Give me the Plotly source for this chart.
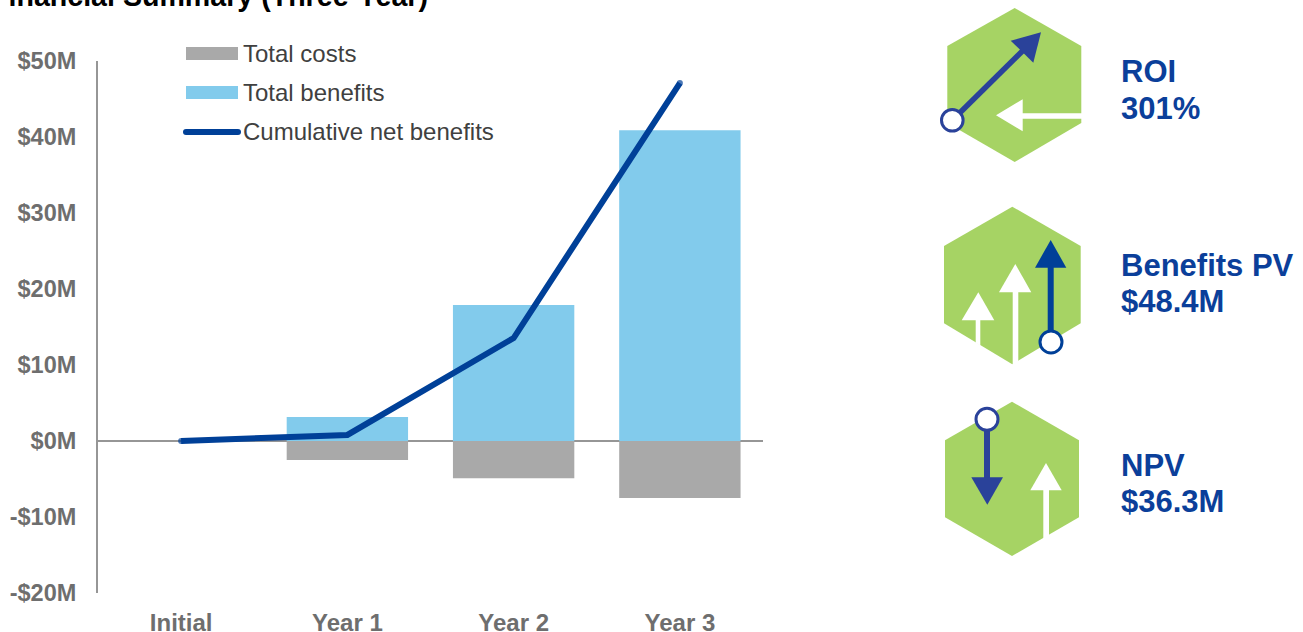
import plotly.graph_objects as go

W, H = 1303, 632

# Chart data, $ millions
periods = ["Initial", "Year 1", "Year 2", "Year 3"]
total_costs = [0, -2.5, -4.9, -7.5]
total_benefits = [0, 3.15, 17.9, 40.9]
cumulative_net = [0, 0.8, 13.55, 47.1]
y_ticks = [50, 40, 30, 20, 10, 0, -10, -20]
y_tick_labels = ["$50M", "$40M", "$30M", "$20M", "$10M", "$0M", "-$10M", "-$20M"]

GREY_BAR = "#a9a9a9"
BLUE_BAR = "#82cbec"
NAVY = "#004098"
ICON_NAVY = "#2a429a"
GREEN = "#a6d364"
LABEL_GREY = "#6e6e6e"
AXIS_GREY = "#969696"
FONT = "Liberation Sans"

fig = go.Figure()
fig.add_bar(x=periods, y=total_costs, marker_color=GREY_BAR, marker_line_width=0, width=0.73, name="Total costs")
fig.add_bar(x=periods, y=total_benefits, marker_color=BLUE_BAR, marker_line_width=0, width=0.73, name="Total benefits")
# Dots on the first and last points give the line rounded ends
fig.add_scatter(x=periods, y=cumulative_net, mode="lines+markers", line=dict(color=NAVY, width=6),
                marker=dict(color=NAVY, size=[6, 0, 0, 6], line_width=0),
                name="Cumulative net benefits")

shapes, notes = [], []


def fx(x):
    return x / W


def fy(y):
    return 1 - y / H


def poly(points, fill):
    """Closed filled polygon given in page pixels."""
    path = "M" + " L".join(f"{fx(x):.5f},{fy(y):.5f}" for x, y in points) + " Z"
    shapes.append(dict(type="path", path=path, xref="paper", yref="paper", fillcolor=fill, line_width=0, layer="above"))


def seg(x0, y0, x1, y1, color, width):
    shapes.append(dict(type="line", x0=fx(x0), y0=fy(y0), x1=fx(x1), y1=fy(y1), xref="paper", yref="paper",
                       line=dict(color=color, width=width), layer="above"))


def ring(cx, cy, r, color):
    shapes.append(dict(type="circle", x0=fx(cx - r), x1=fx(cx + r), y0=fy(cy + r), y1=fy(cy - r),
                       xref="paper", yref="paper", fillcolor="white", line=dict(color=color, width=3), layer="above"))


def dot(cx, cy, r, color):
    shapes.append(dict(type="circle", x0=fx(cx - r), x1=fx(cx + r), y0=fy(cy + r), y1=fy(cy - r),
                       xref="paper", yref="paper", fillcolor=color, line_width=0, layer="above"))


def label(x, y, text, size, color, bold=False):
    notes.append(dict(x=fx(x), y=fy(y), xref="paper", yref="paper", text=f"<b>{text}</b>" if bold else text,
                      showarrow=False, xanchor="left", yanchor="middle",
                      font=dict(family=FONT, size=size, color=color)))


# Legend entries
poly([(186, 47), (238, 47), (238, 60), (186, 60)], GREY_BAR)
poly([(186, 86), (238, 86), (238, 99), (186, 99)], BLUE_BAR)
seg(186, 132, 238, 132, NAVY, 6)
dot(186, 132, 3, NAVY)
dot(238, 132, 3, NAVY)
label(241, 53, "Total costs", 24, "#404040")
label(241, 92.5, "Total benefits", 24, "#404040")
label(241, 131.5, "Cumulative net benefits", 24, "#404040")

# ROI badge
poly([(1014.7, 8), (1081.3, 46), (1081.3, 123), (1014.7, 162), (947.3, 123), (947.3, 46)], GREEN)
poly([(996, 115.3), (1022.7, 99.3), (1022.7, 113.3), (1082, 113.3), (1082, 118.7), (1022.7, 118.7), (1022.7, 131.3)], "white")
seg(952.3, 120.3, 1025, 48.5, ICON_NAVY, 5.5)
poly([(1041, 32.3), (1010.7, 40.7), (1033.3, 62.7)], ICON_NAVY)
ring(952.3, 120.3, 10.8, ICON_NAVY)

# Benefits PV badge
poly([(1012.3, 206.7), (1080.7, 246), (1080.7, 323.3), (1012.3, 364.3), (944, 323.3), (944, 246)], GREEN)
poly([(978.3, 292.3), (994.3, 320.3), (961.7, 320.3)], "white")
poly([(975.7, 320), (980.3, 320), (980.3, 345.5), (975.7, 343)], "white")
poly([(1015.3, 264), (1031.3, 292.3), (999, 292.3)], "white")
poly([(1012.7, 292), (1018.3, 292), (1018.3, 366), (1012.7, 366)], "white")
seg(1050.7, 267, 1050.7, 342, NAVY, 6)
poly([(1050.7, 240), (1066.3, 267.7), (1035, 267.7)], NAVY)
ring(1051, 342, 11, NAVY)

# NPV badge
poly([(1012, 401.7), (1079, 440.3), (1079, 517.3), (1012, 556), (945, 517.3), (945, 440.3)], GREEN)
seg(987, 419, 987, 478, ICON_NAVY, 6)
poly([(971.3, 477.3), (1003, 477.3), (987.3, 504.7)], ICON_NAVY)
ring(987, 419.3, 11, ICON_NAVY)
poly([(1046, 463), (1061.7, 490.3), (1030.3, 490.3)], "white")
poly([(1043.3, 490), (1049, 490), (1049, 566), (1043.3, 566)], "white")

# Badge captions
for x, y, text in [(1119, 71, "ROI"), (1119, 108, "301%"),
                   (1119, 265, "Benefits PV"), (1119, 301, "$48.4M"),
                   (1119, 465, "NPV"), (1119, 501, "$36.3M")]:
    label(x, y, text, 31, "#0b3f9a", bold=True)

# Heading runs off the top-left corner of the page
label(-11, -4, "Financial Summary (Three-Year)", 28.6, "#000000", bold=True)

fig.update_layout(
    width=W, height=H, margin=dict(l=0, r=0, t=0, b=0), autosize=False,
    paper_bgcolor="white", plot_bgcolor="white", barmode="relative", showlegend=False,
    font=dict(family=FONT),
    xaxis=dict(domain=[98 / W, 763 / W], range=[-0.5, 3.5], type="category", categoryorder="array",
               categoryarray=periods, showgrid=False, showline=False, ticks="", ticklabelstandoff=13,
               automargin=False, tickfont=dict(size=24, color=LABEL_GREY, weight="bold"), zeroline=False),
    yaxis=dict(domain=[1 - 593 / H, 1 - 61 / H], range=[-20, 50], tickvals=y_ticks, ticktext=y_tick_labels,
               showgrid=False, showline=True, linecolor=AXIS_GREY, linewidth=2, ticks="", ticklabelstandoff=15,
               automargin=False, zeroline=True, zerolinecolor=AXIS_GREY, zerolinewidth=1.5,
               tickfont=dict(size=23.5, color=LABEL_GREY, weight="bold")),
    shapes=shapes, annotations=notes,
)

fig.write_html("out.html", config=dict(displayModeBar=False))
